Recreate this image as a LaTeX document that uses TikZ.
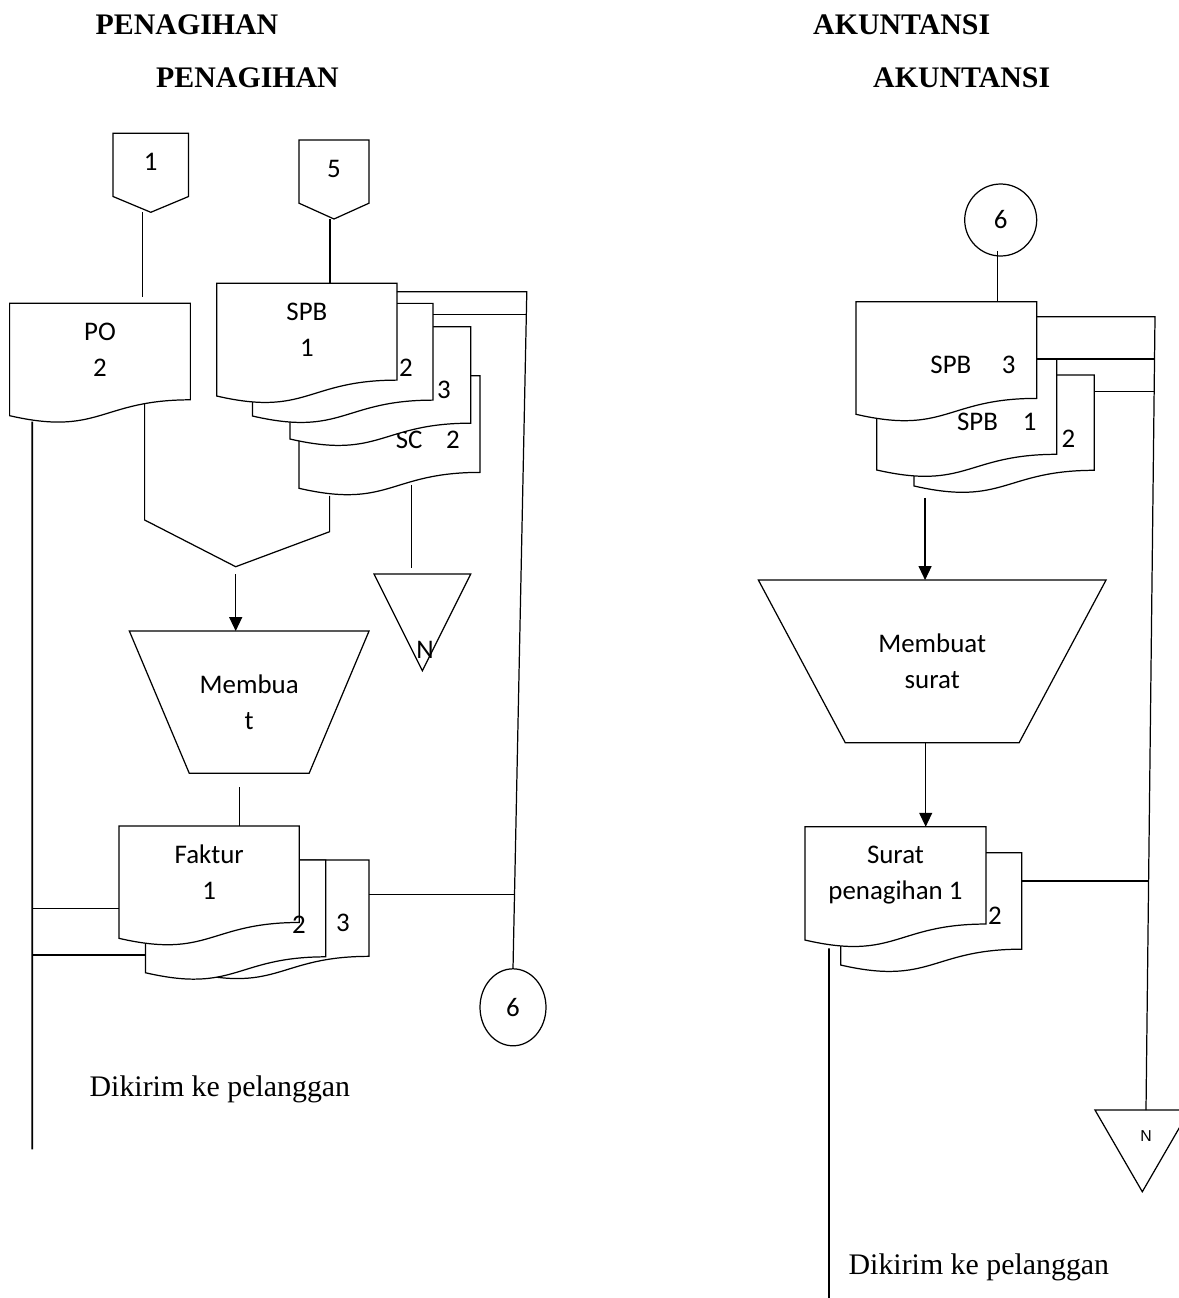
\documentclass[tikz,border=0pt]{standalone}
\usepackage{fontspec}
\setmainfont{Liberation Serif}
\newfontfamily\calibri{Carlito}
\newfontfamily\arialfont{Liberation Sans}
\usetikzlibrary{arrows.meta,calc,shapes.geometric}

% flowchart symbols: document, off-page connector, merge, manual operation
\makeatletter
\newdimen\shpL \newdimen\shpR \newdimen\shpT \newdimen\shpB
\newdimen\shpW \newdimen\shpH \newdimen\shpX \newdimen\shpY
\def\shpbox{\southwest \shpL=\pgf@x \shpB=\pgf@y
  \northeast \shpR=\pgf@x \shpT=\pgf@y
  \shpW=\shpR \advance\shpW by-\shpL
  \shpH=\shpT \advance\shpH by-\shpB}
\def\shph#1#2{\shpX=#1\shpW \advance\shpX by\shpL
  \shpY=#2\shpH \advance\shpY by\shpB \pgfqpoint{\shpX}{\shpY}}
\def\shpanchors{%
  \inheritsavedanchors[from=rectangle]%
  \inheritanchorborder[from=rectangle]%
  \inheritanchor[from=rectangle]{center}%
  \inheritanchor[from=rectangle]{north}%
  \inheritanchor[from=rectangle]{south}%
  \inheritanchor[from=rectangle]{east}%
  \inheritanchor[from=rectangle]{west}%
  \inheritanchor[from=rectangle]{north east}%
  \inheritanchor[from=rectangle]{north west}%
  \inheritanchor[from=rectangle]{south east}%
  \inheritanchor[from=rectangle]{south west}%
  \inheritanchor[from=rectangle]{text}%
  \inheritanchor[from=rectangle]{mid}%
  \inheritanchor[from=rectangle]{base}}
\pgfdeclareshape{wavedoc}{%
  \shpanchors
  \backgroundpath{%
    \shpbox
    \pgfpathmoveto{\pgfqpoint{\shpL}{\shpT}}%
    \pgfpathlineto{\pgfqpoint{\shpR}{\shpT}}%
    \pgfpathlineto{\shph{1}{0.1413}}%
    \pgfpathcurveto{\shph{0.5}{0.1413}}{\shph{0.5}{-0.1852}}{\shph{0}{0}}%
    \pgfpathclose}}
\pgfdeclareshape{offpage}{%
  \shpanchors
  \backgroundpath{%
    \shpbox
    \pgfpathmoveto{\pgfqpoint{\shpL}{\shpT}}%
    \pgfpathlineto{\pgfqpoint{\shpR}{\shpT}}%
    \pgfpathlineto{\shph{1}{0.2}}%
    \pgfpathlineto{\shph{0.5}{0}}%
    \pgfpathlineto{\shph{0}{0.2}}%
    \pgfpathclose}}
\pgfdeclareshape{mergetri}{%
  \shpanchors
  \backgroundpath{%
    \shpbox
    \pgfpathmoveto{\pgfqpoint{\shpL}{\shpT}}%
    \pgfpathlineto{\pgfqpoint{\shpR}{\shpT}}%
    \pgfpathlineto{\shph{0.5}{0}}%
    \pgfpathclose}}
\pgfdeclareshape{manualop}{%
  \shpanchors
  \backgroundpath{%
    \shpbox
    \pgfpathmoveto{\pgfqpoint{\shpL}{\shpT}}%
    \pgfpathlineto{\pgfqpoint{\shpR}{\shpT}}%
    \pgfpathlineto{\shph{0.75}{0}}%
    \pgfpathlineto{\shph{0.25}{0}}%
    \pgfpathclose}}
\makeatother

\tikzset{
  ln/.style={line width=0.7pt},
  thk/.style={line width=1pt},
  arr/.style={ln, -{Triangle[length=0.28cm, width=0.26cm]}},
  cal/.style={font=\calibri\fontsize{15.3pt}{20.4pt}\selectfont},
  shp/.style={draw, fill=white, ln, outer sep=0pt, inner sep=0pt, align=center, cal},
  docbox/.style={shp, shape=wavedoc},
  pagecon/.style={shp, shape=offpage},
  mergebox/.style={shp, shape=mergetri},
  procbox/.style={shp, shape=manualop},
  conn/.style={shp, shape=ellipse},
  lbl/.style={cal, inner sep=0pt},
  hd/.style={font=\bfseries\fontsize{17pt}{20pt}\selectfont, inner sep=0pt},
  note/.style={font=\fontsize{17pt}{20pt}\selectfont, inner sep=0pt, anchor=base west},
  sz/.style 2 args={minimum width=#1cm, minimum height=#2cm}}

\begin{document}
\begin{tikzpicture}[x=0.02cm, y=-0.02cm]
\useasboundingbox (0,0) rectangle (1178,1298);

% column titles
\node[hd] (hp1) at (187,25) {PENAGIHAN};
\node[hd] (hp2) at (247.5,78) {PENAGIHAN};
\node[hd] (ha1) at (901.7,25) {AKUNTANSI};
\node[hd] (ha2) at (961.7,78) {AKUNTANSI};

% ---- PENAGIHAN ----
\node[pagecon, sz={1.512}{1.58}, text depth=0.44cm] (con1) at (150.8,172.8) {1};
\node[pagecon, sz={1.4}{1.58}, text depth=0.42cm] (con5) at (334,179.5) {5};
\node[docbox, sz={3.616}{2.248}, text depth=0.39cm] (po) at (100,359.5) {PO\\2};

% SPB copies + SC (back to front)
\node[docbox, sz={3.62}{2.252}] (sc) at (389.5,432) {};
\node[lbl] (l-sc) at (427.8,440) {SC\hspace{0.88em}2};
\node[docbox, sz={3.614}{2.246}] (spb3) at (380.4,382.9) {};
\node[lbl] (l-spb3) at (444,390) {3};
\node[docbox, sz={3.61}{2.254}] (spb2) at (342.8,359.7) {};
\node[lbl] (l-spb2) at (406,367.7) {2};
\node[docbox, sz={3.604}{2.254}, text depth=0.39cm] (spb1) at (306.9,339.7) {SPB\\1};

\node[mergebox, sz={1.934}{1.934}] (n1) at (422.35,622.35) {};
\node[lbl] (l-n1) at (425,650) {N};

\node[procbox, sz={4.794}{2.846}] (m1) at (249.2,702.2) {Membua\\t};

% faktur copies
\node[docbox, sz={3.6}{2.244}] (f3) at (279,916.1) {};
\node[docbox, sz={3.606}{2.254}] (f2) at (235.6,916.4) {};
\node[docbox, sz={3.606}{2.246}, text depth=0.4cm] (f1) at (209.2,882.2) {Faktur\\1};
\node[lbl] (l-f2) at (299,925) {2};
\node[lbl] (l-f3) at (343,923.3) {3};

\node[conn, sz={1.32}{1.54}] (c6l) at (513,1007.3) {6};
\node[note] (dk1) at (89.3,1096.7) {Dikirim ke pelanggan};

% connectors
\coordinate (c1o) at ($(con1.south)+(-8,0)$);
\draw[ln, shorten >=0.13cm] (c1o) -- (c1o |- po.north);
\coordinate (c5o) at ($(con5.south)+(-4,0)$);
\draw[ln] (c5o) -- (c5o |- spb1.north);

\coordinate (mg) at (235.7,566.7);
\draw[ln] ($(po.south west)+(135,-11.5)$) -- ++(0,115.8) -- (mg)
  -- ($(sc.south west)+(30.6,43.4)$) -- ($(sc.south west)+(30.6,7.7)$);
\draw[arr] (mg) ++(0,7.6) -- (mg |- m1.north);

\coordinate (sco) at ($(sc.south west)+(112.8,-3.3)$);
\draw[ln, shorten >=0.12cm] (sco) -- (sco |- n1.north);

\coordinate (m1o) at ($(m1.south)+(-9.9,14)$);
\draw[ln] (m1o) -- (m1o |- f1.north);

\coordinate (lt0) at ($(po.south west)+(22.7,6)$);
\coordinate (lj1) at (32.3,908.3);
\coordinate (lj2) at (32.3,955);
\coordinate (lt1) at (32.3,1149.3);
\draw[thk] (lt0) -- (lt1);
\draw[ln] (lj1) -- (lj1 -| f1.west);
\draw[ln] (lj2) -- (lj2 -| f2.west);

\coordinate (tr1) at (526.8,291.7);
\coordinate (tr2) at (526.4,314.3);
\coordinate (tr3) at (514.5,894.3);
\draw[ln] (tr1 -| spb1.east) -- (tr1) -- (c6l.north);
\draw[ln] (tr2 -| spb2.east) -- (tr2);
\draw[ln] (tr3 -| f3.east) -- (tr3);

% ---- AKUNTANSI ----
\node[conn, sz={1.44}{1.44}] (c6r) at (1000.7,220) {6};

\node[docbox, sz={3.606}{2.22}] (rs3) at (1004.2,430.5) {};
\node[docbox, sz={3.6}{2.22}] (rs2) at (966.7,414.5) {};
\node[docbox, sz={3.614}{2.252}] (rs1) at (946.3,358) {};
\node[lbl] (l-rs1) at (973,365) {SPB\hspace{1.14em}3};
\node[lbl] (l-rs2) at (996.8,421.7) {SPB\hspace{0.93em}1};
\node[lbl] (l-rs3) at (1068.3,438.3) {2};

\node[procbox, sz={6.954}{3.254}] (m2) at (932.2,661.4) {Membuat\\surat};

\node[docbox, sz={3.62}{2.246}] (s2) at (931.2,908.9) {};
\node[docbox, sz={3.62}{2.266}, text depth=0.42cm] (s1) at (895.5,883.4) {Surat\\penagihan 1};
\node[lbl] (l-s2) at (995,916) {2};

\node[mergebox, sz={1.892}{1.634}] (n2) at (1142.3,1150.9) {};
\node[font=\arialfont\fontsize{9pt}{10pt}\selectfont, inner sep=0pt] (l-n2) at (1146,1136) {N};
\node[note] (dk2) at (848.3,1274) {Dikirim ke pelanggan};

% connectors
\coordinate (c6o) at ($(c6r.south)+(-3.4,-5)$);
\draw[ln] (c6o) -- (c6o |- rs1.north);

\coordinate (rt1) at (1155,316.7);
\coordinate (rt2) at (1154.5,359);
\coordinate (rt3) at (1154.1,391.7);
\coordinate (rt4) at (1148.6,881);
\draw[ln] (rt1 -| rs1.east) -- (rt1) -- ($(n2.north)+(3.7,0)$);
\draw[ln] (rt2 -| rs1.east) -- (rt2);
\draw[ln] (rt3 -| rs3.east) -- (rt3);
\draw[ln] (rt4 -| s2.east) -- (rt4);

\coordinate (rso) at ($(rs3.south west)+(11,12)$);
\draw[arr] (rso) -- (rso |- m2.north);
\coordinate (m2o) at ($(m2.south)+(-6.5,0)$);
\draw[arr] (m2o) -- (m2o |- s1.north);

\coordinate (so) at ($(s1.south west)+(24,8.3)$);
\coordinate (rend) at (829,1300);
\draw[thk] (so) -- (rend);

\end{tikzpicture}
\end{document}
